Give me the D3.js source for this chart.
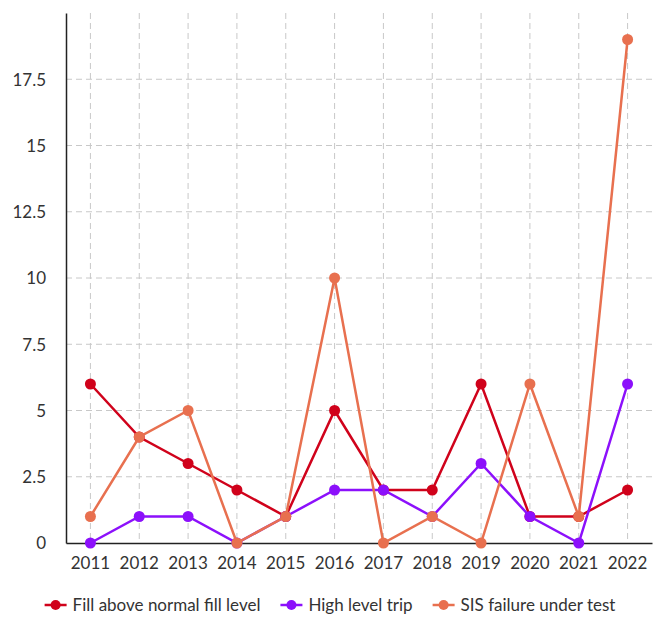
<!DOCTYPE html>
<html>
<head>
<meta charset="utf-8">
<script src="https://cdn.jsdelivr.net/npm/d3@7"></script>
<style>
  body { margin: 0; background: #fff; font-family: Lato, "Open Sans", sans-serif; }
  .grid line { stroke: #c8c8c8; stroke-dasharray: 6,4; }
  .axis text { font-size: 17px; fill: #333; font-family: Lato, sans-serif; }
  .legend text { font-size: 17px; fill: #333; }
</style>
</head>
<body>
<div id="chart"></div>
<script>
var years = ["2011", "2012", "2013", "2014", "2015", "2016", "2017", "2018", "2019", "2020", "2021", "2022"];
var seriesNames = ["Fill above normal fill level", "High level trip", "SIS failure under test"];
var fillAbove = [6, 4, 3, 2, 1, 5, 2, 2, 6, 1, 1, 2];
var highTrip = [0, 1, 1, 0, 1, 2, 2, 1, 3, 1, 0, 6];
var sisFailure = [1, 4, 5, 0, 1, 10, 0, 1, 0, 6, 1, 19];
var yTicks = [0, 2.5, 5, 7.5, 10, 12.5, 15, 17.5];
var colors = ["#d0021b", "#8c10fb", "#e8704f"];

var series = [fillAbove, highTrip, sisFailure];

var margin = { top: 13, right: 8, bottom: 74, left: 66 },
    width = 660 - margin.left - margin.right,
    height = 617 - margin.top - margin.bottom;

var xScale = d3.scaleBand().domain(years).range([0, width]).padding(0);
var yScale = d3.scaleLinear().domain([0, 20]).range([height, 0]);

var svg = d3.select("#chart").append("svg")
    .attr("width", 660).attr("height", 617)
    .append("g")
    .attr("transform", "translate(" + margin.left + "," + margin.top + ")");

// grid
var grid = svg.append("g").attr("class", "grid");
grid.selectAll(".hg").data(yTicks.slice(1)).enter().append("line")
    .attr("x1", 0).attr("x2", width)
    .attr("y1", function(d) { return yScale(d); })
    .attr("y2", function(d) { return yScale(d); });
grid.selectAll(".vg").data(years).enter().append("line")
    .attr("x1", function(d) { return xScale(d) + xScale.bandwidth() / 2; })
    .attr("x2", function(d) { return xScale(d) + xScale.bandwidth() / 2; })
    .attr("y1", 0).attr("y2", height);

// axes
var xAxis = d3.axisBottom(xScale).tickSize(0).tickPadding(14);
var xg = svg.append("g").attr("class", "axis")
    .attr("transform", "translate(0," + height + ")")
    .call(xAxis);
xg.select(".domain").attr("stroke", "#222").attr("stroke-width", 1.5);

var yAxis = d3.axisLeft(yScale).tickValues(yTicks).tickSize(0).tickPadding(20)
    .tickFormat(function(d) { return d; });
var yg = svg.append("g").attr("class", "axis").call(yAxis);
yg.select(".domain").attr("stroke", "#222").attr("stroke-width", 1.5);
yg.selectAll("text").attr("dy", "0.35em");

// lines
var line = d3.line()
    .x(function(d, i) { return xScale(years[i]) + xScale.bandwidth() / 2; })
    .y(function(d) { return yScale(d); });

series.forEach(function(s, k) {
    svg.append("path")
        .datum(s)
        .attr("fill", "none")
        .attr("stroke", colors[k])
        .attr("stroke-width", 2.5)
        .attr("d", line);
    svg.selectAll(".dot" + k).data(s).enter().append("circle")
        .attr("class", "dot" + k)
        .attr("cx", function(d, i) { return xScale(years[i]) + xScale.bandwidth() / 2; })
        .attr("cy", function(d) { return yScale(d); })
        .attr("r", 5.5)
        .attr("fill", colors[k]);
});

// legend
var legend = d3.select("svg").append("g").attr("class", "legend")
    .attr("transform", "translate(0,605)");
var items = legend.selectAll("g").data(seriesNames).enter().append("g");
items.append("line")
    .attr("x1", 0).attr("x2", 22).attr("y1", 0).attr("y2", 0)
    .attr("stroke", function(d, i) { return colors[i]; })
    .attr("stroke-width", 2.5);
items.append("circle")
    .attr("cx", 11).attr("cy", 0).attr("r", 5)
    .attr("fill", function(d, i) { return colors[i]; });
items.append("text")
    .attr("x", 28).attr("dy", "0.35em")
    .text(function(d) { return d; });

var xPos = 0, gap = 20, widths = [];
items.each(function() { widths.push(this.getBBox().width); });
var total = d3.sum(widths) + gap * (widths.length - 1);
xPos = (660 - total) / 2;
items.attr("transform", function(d, i) {
    var x = xPos;
    xPos += widths[i] + gap;
    return "translate(" + x + ",0)";
});
</script>
</body>
</html>
